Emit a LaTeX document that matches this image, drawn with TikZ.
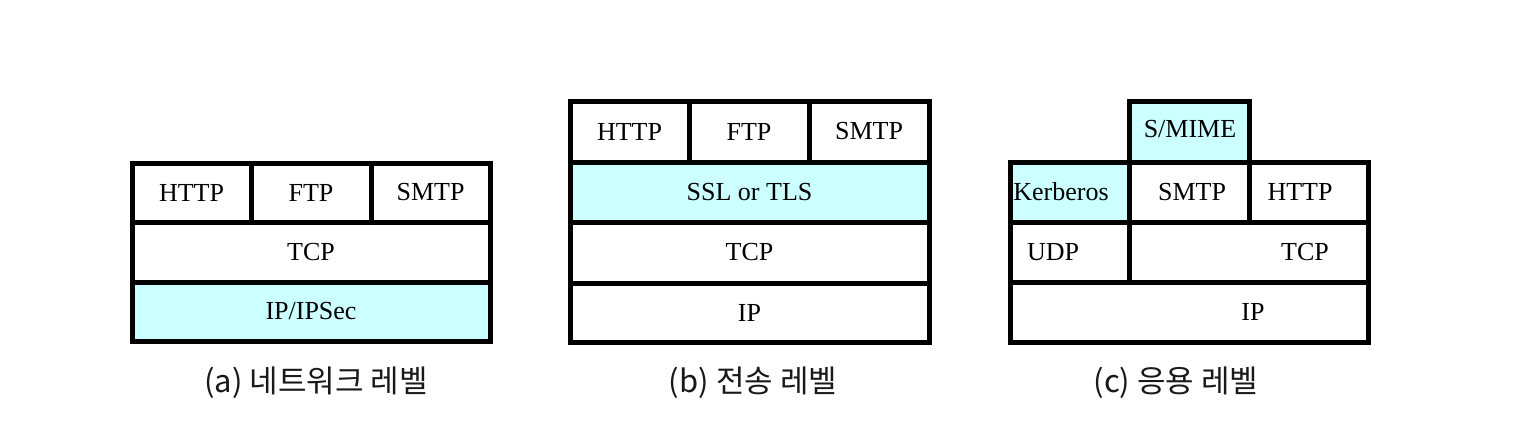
\documentclass[tikz,border=0pt]{standalone}
\usepackage{fontspec}
\setmainfont{Liberation Serif}
\newfontfamily\kofont{Noto Sans CJK KR}
\definecolor{secfill}{HTML}{CCFFFF}
\begin{document}
\begin{tikzpicture}[x=0.5pt,y=-0.5pt,
  cell/.style={draw=black, line width=2.5pt, fill=white, inner sep=0pt, outer sep=0pt,
    font=\fontsize{13}{15}\selectfont},
  sec/.style={cell, fill=secfill},
  lbl/.style={inner sep=0pt, font=\fontsize{13}{15}\selectfont},
  captext/.style={inner sep=0pt, font=\kofont\fontsize{15.5}{18}\selectfont, text=black!90}]
\useasboundingbox (0,0) rectangle (1526,424);
% (a) network level
\node[cell, minimum width=59.5pt, minimum height=29.5pt] (aHTTP) at (191.5,192.5) {HTTP};
\node[cell, minimum width=60pt, minimum height=29.5pt] (aFTP) at (311,192.5) {FTP};
\node[cell, minimum width=59.5pt, minimum height=29.5pt] (aSMTP) at (430.5,192.5) {SMTP};
\node[cell, minimum width=179pt, minimum height=30pt] (aTCP) at (311,252) {TCP};
\node[sec, minimum width=179pt, minimum height=29.5pt] (aIP) at (311,311.5) {IP/IPSec};
\node[captext] (capa) at (316,383) {(a) 네트워크 레벨};
% (b) transport level
\node[cell, minimum width=59.5pt, minimum height=30.5pt] (bHTTP) at (629.5,131.5) {HTTP};
\node[cell, minimum width=60pt, minimum height=30.5pt] (bFTP) at (749,131.5) {FTP};
\node[cell, minimum width=60pt, minimum height=30.5pt] (bSMTP) at (869,131.5) {SMTP};
\node[sec, minimum width=179.5pt, minimum height=30pt] (bSSL) at (749.5,192) {SSL or TLS};
\node[cell, minimum width=179.5pt, minimum height=30.5pt] (bTCP) at (749.5,252.5) {TCP};
\node[cell, minimum width=179.5pt, minimum height=29.5pt] (bIP) at (749.5,312.5) {IP};
\node[captext] (capb) at (753,383) {(b) 전송 레벨};
% (c) application level
\node[sec, minimum width=60pt, minimum height=30.5pt] (cSMIME) at (1189,131.5) {};
\node[lbl] (tSMIME) at (1190,129) {S/MIME};
\node[sec, minimum width=59.5pt, minimum height=30pt] (cKerb) at (1069.5,192) {};
\node[lbl, anchor=west] (tKerb) at (1013,192) {Kerberos};
\node[cell, minimum width=60pt, minimum height=30pt] (cSMTP) at (1189,192) {};
\node[lbl] (tSMTP) at (1192,192) {SMTP};
\node[cell, minimum width=59.5pt, minimum height=30pt] (cHTTP) at (1308.5,192) {};
\node[lbl] (tHTTP) at (1300,192) {HTTP};
\node[cell, minimum width=59.5pt, minimum height=30pt] (cUDP) at (1069.5,252) {};
\node[lbl] (tUDP) at (1053,252) {UDP};
\node[cell, minimum width=119.5pt, minimum height=30pt] (cTCP) at (1248.5,252) {};
\node[lbl] (tTCP) at (1305,252) {TCP};
\node[cell, minimum width=179pt, minimum height=30pt] (cIP) at (1189,312) {};
\node[lbl] (tIP) at (1253,312) {IP};
\node[captext] (capc) at (1176,383) {(c) 응용 레벨};
\end{tikzpicture}
\end{document}
